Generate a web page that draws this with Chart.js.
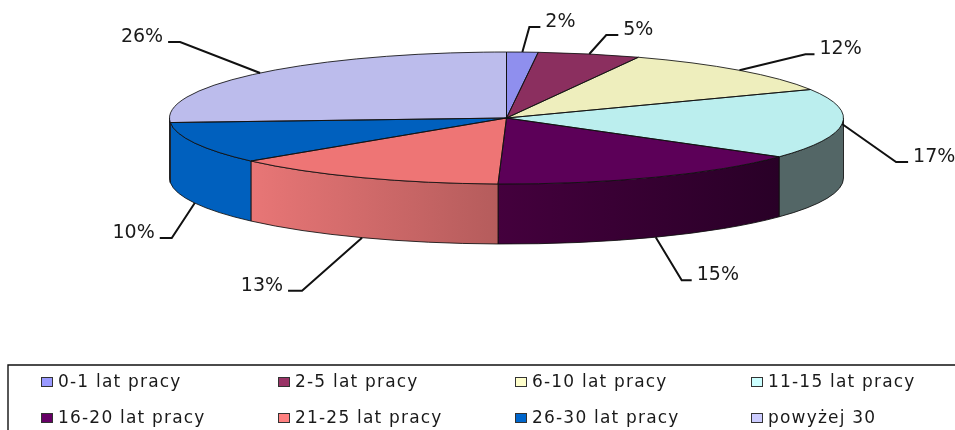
<!DOCTYPE html>
<html>
<head>
<meta charset="utf-8">
<style>
  html, body { margin: 0; padding: 0; background: #fff; }
  #wrap { width: 955px; height: 430px; }
</style>
</head>
<body>
<div id="wrap"><canvas id="pieChart" width="955" height="430"></canvas></div>
<script src="https://cdn.jsdelivr.net/npm/chart.js@4"></script>
<script>
// Slice values (labels show them rounded)
const categories = ['0-1 lat pracy', '2-5 lat pracy', '6-10 lat pracy', '11-15 lat pracy', '16-20 lat pracy', '21-25 lat pracy', '26-30 lat pracy', 'powyżej 30'];
const shares = [1.5, 4.9, 11.5, 17.1, 15.4, 13.3, 10.2, 26.1];

// Colours
const topColors = ['#8f8fee', '#8b2f5f', '#eeeebd', '#bbeeee', '#5c0058', '#ee7575', '#0060be', '#bcbcec'];
const legendColors = ['#9999ff', '#993366', '#ffffcc', '#ccffff', '#660066', '#ff8080', '#0066cc', '#ccccff'];
const wallColors = [
    ['#6a6ab0', '#6a6ab0'], ['#66234a', '#66234a'], ['#b0b08c', '#b0b08c'], ['#536666', '#536666'],
    ['#44003d', '#290027'], ['#e87676', '#b55c5c'], ['#0060be', '#0060be'], ['#8a8aae', '#8a8aae']
];

// Leader line shape per slice: elbow offset from the rim and length of the flat run
const leaderElbowX = [7, 17, 66, 54, 26, -60, -23, -80];
const leaderElbowY = [-25, -19, -16, 38, 43, 53, 35, -31];
const leaderRun = [11, 12, 9, 12, 10, -14, -12, -12];

// Pie geometry
const radiusX = 337;
const radiusY = 66;
const depth = 60;
const squash = radiusY / radiusX;

// Point on the top ellipse for a chart.js arc angle
function rimPoint(cx, cy, angle) {
    return { x: cx + radiusX * Math.cos(angle), y: cy + radiusY * Math.sin(angle) };
}

const pie3d = {
    id: 'pie3d',
    // Side walls go under the slices
    beforeDatasetsDraw(chart) {
        const ctx = chart.ctx;
        const arcs = chart.getDatasetMeta(0).data;
        const cx = arcs[0].x, cy = arcs[0].y;
        arcs.forEach((arc, i) => {
            const from = Math.max(arc.startAngle, 0);
            const to = Math.min(arc.endAngle, Math.PI);
            if (to <= from) return;
            const a = rimPoint(cx, cy, from);
            const b = rimPoint(cx, cy, to);
            const gradient = ctx.createLinearGradient(b.x, 0, a.x, 0);
            gradient.addColorStop(0, wallColors[i][0]);
            gradient.addColorStop(1, wallColors[i][1]);
            ctx.beginPath();
            ctx.ellipse(cx, cy, radiusX, radiusY, 0, from, to);
            ctx.lineTo(b.x, b.y + depth);
            ctx.ellipse(cx, cy + depth, radiusX, radiusY, 0, to, from, true);
            ctx.closePath();
            ctx.fillStyle = gradient;
            ctx.fill();
            ctx.strokeStyle = 'rgba(15, 15, 15, 0.85)';
            ctx.lineWidth = 1;
            ctx.stroke();
        });
        // Squash the arcs into an ellipse while the library draws them
        ctx.save();
        ctx.translate(cx, cy);
        ctx.scale(1, squash);
        ctx.translate(-cx, -cy);
    },
    afterDatasetsDraw(chart) {
        const ctx = chart.ctx;
        ctx.restore();
        const arcs = chart.getDatasetMeta(0).data;
        const cx = arcs[0].x, cy = arcs[0].y;

        // Slice outlines, drawn unsquashed so the line width stays even
        arcs.forEach(arc => {
            ctx.beginPath();
            ctx.moveTo(cx, cy);
            ctx.ellipse(cx, cy, radiusX, radiusY, 0, arc.startAngle, arc.endAngle);
            ctx.closePath();
            ctx.strokeStyle = 'rgba(15, 15, 15, 0.85)';
            ctx.lineWidth = 1;
            ctx.stroke();
        });

        // Leader lines and percent labels
        ctx.font = '19px "DejaVu Sans"';
        ctx.textBaseline = 'middle';
        arcs.forEach((arc, i) => {
            const mid = (arc.startAngle + arc.endAngle) / 2;
            const start = rimPoint(cx, cy, mid);
            if (Math.sin(mid) > 0.2) start.y += depth;
            const elbowX = start.x + leaderElbowX[i];
            const elbowY = start.y + leaderElbowY[i];
            const endX = elbowX + leaderRun[i];
            ctx.beginPath();
            ctx.moveTo(start.x, start.y);
            ctx.lineTo(elbowX, elbowY);
            ctx.lineTo(endX, elbowY);
            ctx.strokeStyle = '#111';
            ctx.lineWidth = 2;
            ctx.stroke();
            ctx.fillStyle = '#1a1a1a';
            ctx.textAlign = leaderRun[i] > 0 ? 'left' : 'right';
            ctx.fillText(Math.round(shares[i]) + '%', endX + (leaderRun[i] > 0 ? 5 : -5), elbowY - 5);
        });
    }
};

// Legend box with fixed columns, running off the right and bottom of the picture
const legendBox = {
    id: 'legendBox',
    afterDraw(chart) {
        const ctx = chart.ctx;
        const columns = [41, 278, 515, 751];
        const rows = [382, 418];
        ctx.save();
        ctx.beginPath();
        ctx.moveTo(8, 430);
        ctx.lineTo(8, 365);
        ctx.lineTo(955, 365);
        ctx.strokeStyle = '#111';
        ctx.lineWidth = 1.4;
        ctx.stroke();
        ctx.font = '17px "DejaVu Sans"';
        ctx.letterSpacing = '1.2px';
        ctx.textBaseline = 'middle';
        ctx.textAlign = 'left';
        categories.forEach((name, i) => {
            const x = columns[i % 4];
            const y = rows[Math.floor(i / 4)];
            ctx.fillStyle = legendColors[i];
            ctx.fillRect(x, y - 5, 12, 10);
            ctx.strokeStyle = '#333';
            ctx.lineWidth = 1;
            ctx.strokeRect(x + 0.5, y - 4.5, 11, 9);
            ctx.fillStyle = '#1a1a1a';
            ctx.fillText(name, x + 17, y + 1);
        });
        ctx.restore();
    }
};

const ctx = document.getElementById('pieChart').getContext('2d');
const pieChart = new Chart(ctx, {
    type: 'pie',
    data: {
        labels: categories,
        datasets: [{
            data: shares,
            backgroundColor: topColors,
            borderWidth: 0,
            radius: radiusX,
            clip: false
        }]
    },
    options: {
        responsive: false,
        animation: false,
        // Pie centre sits at the middle of this area
        layout: { padding: { left: 58, bottom: 194 } },
        plugins: {
            legend: { display: false },
            tooltip: { enabled: false }
        }
    },
    plugins: [pie3d, legendBox]
});
</script>
</body>
</html>
